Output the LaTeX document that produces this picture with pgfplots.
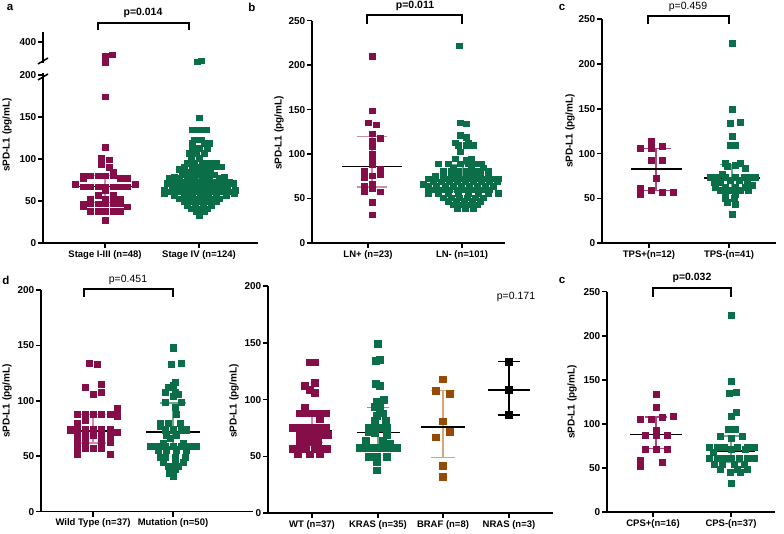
\documentclass[border=0pt]{standalone}
\usepackage{fontspec}
\setmainfont{Liberation Sans}
\usepackage{pgfplots}
\pgfplotsset{compat=1.18}

\definecolor{mar}{RGB}{134,14,72}
\definecolor{grn}{RGB}{10,110,72}
\definecolor{brn}{RGB}{150,75,5}
\definecolor{pnk}{RGB}{205,140,170}
\definecolor{mpk}{RGB}{175,70,120}
\definecolor{lgr}{RGB}{110,170,135}
\definecolor{tan}{RGB}{215,165,125}

\pgfplotsset{
  gp/.style={scale only axis, clip=false, anchor=south west,
    xmin=0, ymin=0,
    axis x line*=bottom, axis y line*=left,
    axis line style={line width=1.6pt},
    tick align=outside, major tick length=5pt,
    every tick/.append style={line width=1.6pt, black},
    y tick label style={font=\bfseries\fontsize{10}{12}\selectfont, inner sep=1.5pt},
    x tick label style={font=\bfseries\fontsize{9.5}{11}\selectfont, inner sep=2pt},
    /pgf/number format/assume math mode=true,
    scaled y ticks=false},
  dot/.style={only marks, mark=square*, mark size=#1},
}
% centre, q1, q3, cap left, cap right, median left, median right, median, colour
\newcommand\summ[9]{%
  \addplot[#9,line width=1.2pt] coordinates {(#1,#2) (#1,#3)};
  \addplot[#9,line width=1.2pt] coordinates {(#4,#2) (#5,#2)};
  \addplot[#9,line width=1.2pt] coordinates {(#4,#3) (#5,#3)};
  \addplot[black,line width=1.5pt] coordinates {(#6,#8) (#7,#8)};}

\begin{document}
\begin{tikzpicture}[x=1pt,y=1pt]
\useasboundingbox (0,0) rectangle (784,534);

%% a, upper part of the broken axis
\begin{axis}[gp, at={(43pt,471pt)}, width=215pt, height=31pt,
  ymin=250, ymax=470, ytick={400}, axis x line=none, xmax=215, xtick=\empty]
\addplot[dot=2.7, mar] table[x expr=\thisrow{dx}+62, y=y]{
dx y
7 309
0 297
0 256
};
\addplot[dot=2.7, grn] table[x expr=\thisrow{dx}+156, y=y]{
dx y
2 266
-2 258
};
\end{axis}

%% a, lower part
\begin{axis}[gp, at={(43pt,291pt)}, width=215pt, height=169.7pt,
  xmax=215, ymax=202, ytick={0,50,100,150,200},
  xtick={62,156}, xticklabels={Stage I-III (n=48),Stage IV (n=124)}]
\addplot[dot=2.7, mar] table[x expr=\thisrow{dx}+62, y=y]{
dx y
0 174
0 114
-4 101
4 99
-4 94
4 90
8 85
-22 80
-15 80
-7 80
0 80
8 80
15 77
22 77
-22 77
-30 70
30 70
-22 67
-15 67
-7 67
0 67
8 67
15 67
22 67
0 62
-7 57
8 57
-15 53
0 53
8 53
15 53
-22 47
-15 47
-7 47
0 47
8 47
15 47
-22 43
22 43
-15 38
-7 38
0 38
8 38
15 38
0 27
};
\addplot[dot=2.7, grn] table[x expr=\thisrow{dx}+156, y=y]{
dx y
0 149
-7 135
-3 135
2 135
7 135
-5 123
2 123
-7 119
5 119
10 119
-7 113
0 113
8 113
-10 107
-3 107
5 107
-8 101
0 101
-12 95
-5 95
3 95
10 95
17 95
-15 91
-7 91
0 91
7 91
15 91
22 91
-20 88
-5 88
8 88
-17 85
-10 85
-3 85
4 85
11 85
-15 81
-8 81
0 81
8 81
15 81
-25 79
25 79
-30 77
-20 77
-12 77
-5 77
3 77
10 77
20 77
-25 73
-15 73
-8 73
0 73
8 73
15 73
25 73
30 73
-32 71
-18 71
-3 71
12 71
26 71
34 71
-22 69
-14 69
-7 69
1 69
8 69
15 69
22 69
-27 65
-18 65
-10 65
-2 65
6 65
14 65
22 65
28 65
-35 63
36 63
-30 61
-20 61
-12 61
-4 61
4 61
12 61
20 61
30 61
-35 59
-8 59
8 59
35 59
-25 57
-15 57
-7 57
1 57
9 57
17 57
27 57
-20 53
-12 53
-4 53
4 53
12 53
20 53
-15 49
-7 49
1 49
9 49
17 49
-12 45
-4 45
4 45
12 45
-8 41
0 41
8 41
-3 37
5 37
0 33
};
\summ{62}{48}{80}{47}{77}{32}{92}{67}{pnk}
\summ{156}{60}{92}{141}{171}{125}{187}{73}{lgr}
\end{axis}

%% b
\begin{axis}[gp, at={(312pt,291pt)}, width=193pt, height=222.3pt,
  xmax=193, ymax=250, ytick={0,50,...,250},
  xtick={56,150}, xticklabels={LN+ (n=23),LN- (n=101)}]
\addplot[dot=2.7, mar] table[x expr=\thisrow{dx}+60, y=y]{
dx y
0 210
0 149
-4 135
4 133
0 123
8 118
0 115
0 108
0 100
0 94
0 88
-8 81
8 83
8 77
-8 74
0 76
-8 64
0 61
-8 58
8 58
0 66
0 46
0 32
};
\addplot[dot=2.7, grn] table[x expr=\thisrow{dx}+151, y=y]{
dx y
-4 222
-3 135
3 134
-3 121
3 119
-8 113
5 113
-5 110
3 110
10 110
-3 103
-8 95
8 95
3 93
-25 89
-15 89
-3 89
5 89
12 89
18 89
-10 85
8 85
20 85
-20 81
-12 81
-5 81
3 81
10 81
17 81
25 81
-28 76
-20 76
-12 76
-5 76
3 76
10 76
17 76
25 76
-35 72
-28 72
-18 72
-10 72
-3 72
5 72
12 72
20 72
28 72
35 72
-30 69
-22 69
-14 69
-6 69
2 69
10 69
18 69
26 69
34 69
-40 66
-35 64
-27 64
-18 64
-10 64
-2 64
6 64
14 64
22 64
30 64
-30 60
-22 60
-14 60
-6 60
2 60
10 60
18 60
26 60
-35 56
-25 56
-15 56
-5 56
5 56
15 56
25 56
35 56
-20 51
-12 51
-4 51
4 51
12 51
20 51
-15 47
-7 47
1 47
9 47
17 47
-10 43
-2 43
6 43
14 43
-6 39
2 39
10 39
};
\summ{60}{63}{120}{45}{75}{30}{90}{86}{pnk}
\summ{151}{58}{88}{136}{166}{121}{181}{71}{lgr}
\end{axis}

%% c (TPS)
\begin{axis}[gp, at={(602pt,290.7pt)}, width=174pt, height=224.3pt,
  xmax=174, ymax=250, ytick={0,50,...,250},
  xtick={47,127}, xticklabels={TPS+(n=12),TPS-(n=41)}]
\addplot[dot=3.0, mar] table[x expr=\thisrow{dx}+54, y=y]{
dx y
-5 114
-16 106
-5 106
6 108
-5 93
6 93
0 72
-16 61
-16 55
-5 59
6 57
17 57
};
\addplot[dot=3.0, grn] table[x expr=\thisrow{dx}+130, y=y]{
dx y
0 223
0 149
-2 134
8 135
0 119
-2 109
3 109
-7 89
8 89
3 87
-5 86
13 84
-22 74
-15 74
-7 74
3 74
12 74
18 74
23 74
-10 77
-2 70
7 70
15 70
-18 68
-12 68
20 65
-17 63
-7 63
3 63
13 63
-12 59
-2 59
8 59
16 59
-7 55
3 55
-7 50
2 50
-5 46
3 44
0 32
};
\summ{54}{59}{106}{39}{69}{29}{80}{83}{mpk}
\summ{130}{57}{88}{118}{142}{102}{158}{73}{lgr}
\end{axis}

%% d
\begin{axis}[gp, at={(41pt,22.3pt)}, width=212pt, height=221.7pt,
  xmax=212, ymax=200, ytick={0,50,...,200},
  xtick={52,132}, xticklabels={Wild Type (n=37),Mutation (n=50)}]
\addplot[dot=3.1, mar] table[x expr=\thisrow{dx}+52, y=y]{
dx y
-4 134
4 133
-8 112
8 115
0 106
8 108
24 93
-16 88
-8 88
0 88
8 88
17 88
24 86
-16 80
-8 83
-23 74
-16 74
-8 74
0 74
8 74
17 74
24 72
-16 69
-8 69
0 69
8 69
17 69
-16 63
-8 63
8 63
17 63
-16 57
-8 57
0 57
8 57
-16 52
17 52
};
\addplot[dot=3.1, grn] table[x expr=\thisrow{dx}+132, y=y]{
dx y
0 148
-2 133
8 134
2 117
-5 112
0 114
-8 108
2 108
5 106
0 104
-8 99
8 99
2 94
3 88
-13 80
-5 80
7 80
-13 77
-8 74
0 74
8 74
13 74
-7 69
3 69
-3 66
-10 62
10 62
-23 59
-17 59
-8 59
0 59
8 59
17 59
23 59
-15 56
-7 56
3 56
13 56
-13 49
-8 49
2 49
12 49
-10 45
2 45
10 45
-5 41
5 41
2 38
-4 35
0 32
};
\summ{52}{62}{88}{39}{65}{27}{79}{73}{pnk}
\summ{132}{57}{98}{119}{145}{105}{159}{72}{lgr}
\end{axis}

%% e
\begin{axis}[gp, at={(268pt,20.7pt)}, width=285pt, height=227.3pt,
  xmax=285, ymax=200, ytick={0,50,...,200},
  xtick={44,110,175,241},
  xticklabels={WT (n=37),KRAS (n=35),BRAF (n=8),NRAS (n=3)}]
\addplot[dot=3.4, mar] table[x expr=\thisrow{dx}+44, y=y]{
dx y
-2 133
3 133
3 115
-7 112
-2 109
3 106
-7 93
-12 88
-4 88
3 88
9 88
14 88
8 83
-19 75
-12 75
-6 75
1 75
8 75
14 75
-12 69
-6 69
1 69
8 69
16 69
-12 63
-6 63
1 63
6 63
-19 57
-12 57
-6 57
3 57
9 57
15 57
-14 52
-2 52
8 52
};
\addplot[dot=3.4, grn] table[x expr=\thisrow{dx}+110, y=y]{
dx y
0 149
-2 134
2 135
-2 114
2 112
-1 98
6 100
-3 94
2 93
5 88
-1 86
-3 82
8 82
-9 75
-4 75
2 75
9 75
9 69
-9 72
-3 71
-12 64
5 64
-18 58
-12 58
-6 58
1 58
7 58
14 58
19 58
12 61
-9 50
-1 50
9 50
-1 45
-1 38
};
\addplot[dot=3.4, brn] table[x expr=\thisrow{dx}+175, y=y]{
dx y
0 118
-7 108
7 105
0 81
7 72
-7 67
0 42
0 32
};
\addplot[dot=3.4, black] table[x expr=\thisrow{dx}+241, y=y]{
dx y
0 133.4
0 108.5
0 86.5
};
\summ{44}{62}{88}{33}{55}{24}{64}{73}{pnk}
\summ{110}{57}{93}{99}{121}{89}{132}{71}{lgr}
\summ{175}{49}{108}{163}{187}{153}{197}{76}{tan}
\summ{241}{86.5}{133.4}{230}{252}{220}{262}{108.5}{black}
\end{axis}

%% c (CPS)
\begin{axis}[gp, at={(607pt,21.7pt)}, width=168pt, height=220.6pt,
  xmax=168, ymax=250, ytick={0,50,...,250},
  xtick={46,124}, xticklabels={CPS+(n=16),CPS-(n=37)}]
\addplot[dot=3.0, mar] table[x expr=\thisrow{dx}+49, y=y]{
dx y
0 134
0 119
-16 106
-5 106
6 108
17 109
0 93
-11 87
0 87
11 87
-11 72
0 72
11 72
-16 59
-16 52
6 57
};
\addplot[dot=3.0, grn] table[x expr=\thisrow{dx}+124, y=y]{
dx y
0 223
0 149
-2 135
5 136
5 114
0 109
-3 94
4 94
0 84
11 86
-11 86
-22 74
-14 74
-7 74
6 74
16 74
23 74
0 71
14 71
-18 68
-22 61
-14 61
-7 61
0 61
8 61
16 61
23 61
-17 55
-9 55
3 55
13 55
-11 49
6 49
16 49
-1 45
9 45
0 33
};
\summ{49}{72}{108}{38}{60}{23}{75}{88}{mpk}
\summ{124}{57}{86.5}{112}{136}{103}{148}{69.5}{lgr}
\end{axis}

%% labels, brackets and p values (picture pixels, y downwards)
\begin{scope}[shift={(0,534)}, yscale=-1]
\draw[line width=1.5pt] (38,64) -- (48,58);
\draw[line width=1.5pt] (38,80) -- (48,74);
\draw[line width=1.5pt] (98,30) -- (98,23) -- (189,23) -- (189,30);
\draw[line width=1.5pt] (367,24) -- (367,15) -- (462,15) -- (462,24);
\draw[line width=1.5pt] (648,24) -- (648,16) -- (729,16) -- (729,24);
\draw[line width=1.5pt] (84,297) -- (84,289) -- (173,289) -- (173,297);
\draw[line width=1.5pt] (653,297) -- (653,288) -- (731,288) -- (731,297);
\begin{scope}[every node/.style={font=\fontsize{10.5}{12}\selectfont}]
\node at (143,13) {\bfseries p=0.014};
\node at (415,6) {\bfseries p=0.011};
\node at (688,7) {p=0.459};
\node at (128,280) {p=0.451};
\node at (516,297) {p=0.171};
\node at (692,278) {\bfseries p=0.032};
\end{scope}
\begin{scope}[every node/.style={font=\bfseries\fontsize{11.5}{13}\selectfont}]
\node at (10,7) {a};
\node at (252,7) {b};
\node at (562,7) {c};
\node at (6,280) {d};
\node at (562,280) {c};
\end{scope}
\begin{scope}[every node/.style={font=\bfseries\fontsize{10}{12}\selectfont, rotate=90}]
\node at (7,135) {sPD-L1 (pg/mL)};
\node at (279,133) {sPD-L1 (pg/mL)};
\node at (570,131) {sPD-L1 (pg/mL)};
\node at (7,401) {sPD-L1 (pg/mL)};
\node at (234,401) {sPD-L1 (pg/mL)};
\node at (572,402) {sPD-L1 (pg/mL)};
\end{scope}
\end{scope}
\end{tikzpicture}
\end{document}
